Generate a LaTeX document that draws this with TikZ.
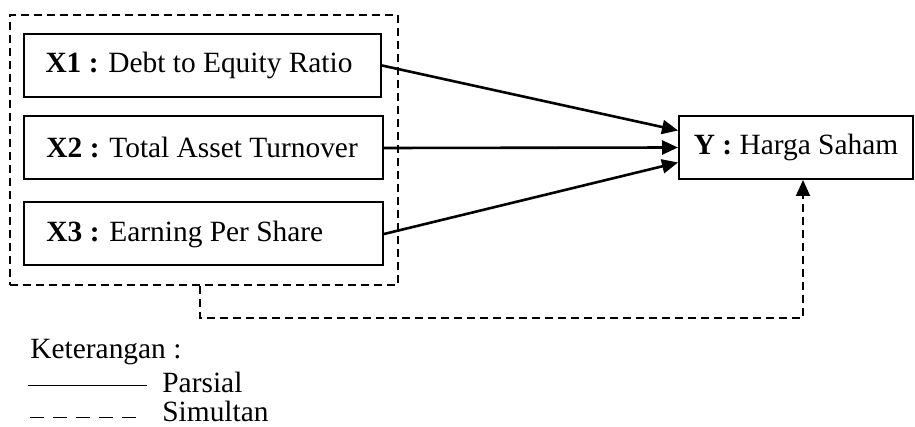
\documentclass[tikz,border=0pt]{standalone}
\usepackage{fontspec}
\setmainfont{Liberation Serif}
\usetikzlibrary{arrows.meta}
\newcommand{\varlabel}[1]{\makebox[157pt][l]{#1}}

\begin{document}
\begin{tikzpicture}[x=0.5pt, y=-0.5pt,
    every node/.style={font=\fontsize{14.7}{17}\selectfont},
    var/.style={draw, line width=1pt, minimum height=31.5pt, inner xsep=10.5pt, inner ysep=0pt},
    parsial/.style={line width=1.3pt, -{Triangle[length=8pt, width=7pt]}},
    simul/.style={line width=0.9pt, dash pattern=on 4pt off 2.5pt}]
    \useasboundingbox (0,0) rectangle (915,427);

    % Variabel bebas
    \node[draw, simul, minimum width=194pt, minimum height=135pt] (grp) at (204,150) {};
    \node[var, minimum width=178.5pt] (X1) at (202.5,65.5) {\varlabel{\textbf{X1 :} Debt to Equity Ratio}};
    \node[var, minimum width=179.5pt] (X2) at (203.5,148) {\varlabel{\textbf{X2 :} Total Asset Turnover}};
    \node[var, minimum width=179.5pt] (X3) at (203.5,234) {\varlabel{\textbf{X3 :} Earning Per Share}};

    % Variabel terikat
    \node[var, minimum width=117pt, inner xsep=0pt] (Y) at (796,147.5) {\textbf{Y :} Harga Saham};

    \draw[parsial] (X1.east) -- ([yshift=8.5pt]Y.west);
    \draw[parsial] (X2.east) -- (Y.west);
    \draw[parsial] (X3.east) -- ([yshift=-7.5pt]Y.west);
    \draw[simul, -{Triangle[length=8pt, width=7pt]}] ([xshift=-2pt]grp.south) -- ++(0,32) -| ([xshift=3.5pt]Y.south);

    % Keterangan
    \node[anchor=base west, inner sep=0pt] (ket) at (30,358) {Keterangan :};
    \node[anchor=base west, inner sep=0pt] (par) at (162,392) {Parsial};
    \node[anchor=base west, inner sep=0pt] (sim) at (162,421) {Simultan};
    \coordinate (p1) at (28,385);
    \coordinate (p2) at (147,385);
    \coordinate (s1) at (30,417);
    \coordinate (s2) at (137,417);
    \draw[line width=0.5pt] (p1) -- (p2);
    \draw[line width=0.5pt, dash pattern=on 7pt off 4.5pt] (s1) -- (s2);
\end{tikzpicture}
\end{document}
